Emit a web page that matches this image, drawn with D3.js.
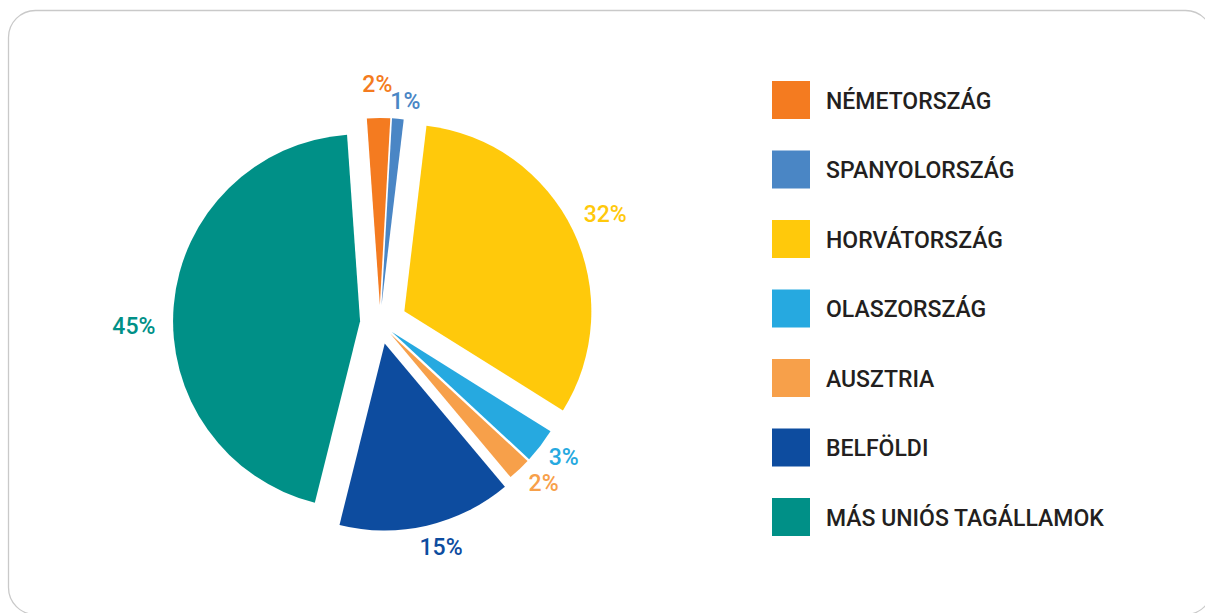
<!DOCTYPE html>
<html>
<head>
<meta charset="utf-8">
<script src="https://cdn.jsdelivr.net/npm/d3@7"></script>
<style>
  body { margin: 0; background: #fff; }
  svg { display: block; }
</style>
</head>
<body>
<svg id="chart" width="1205" height="613"></svg>
<script>
// share of visitors by origin (%)
const categories = ['NÉMETORSZÁG', 'SPANYOLORSZÁG', 'HORVÁTORSZÁG', 'OLASZORSZÁG', 'AUSZTRIA', 'BELFÖLDI', 'MÁS UNIÓS TAGÁLLAMOK'];
const values = [2, 1, 32, 3, 2, 15, 45];
const labels = ['2%', '1%', '32%', '3%', '2%', '15%', '45%'];

const colors = ['#f47b20', '#4a86c5', '#ffc90b', '#26a9e0', '#f7a04a', '#0d4c9f', '#009087'];
// how far each slice is pulled out from the centre
const explode = [18, 18, 27, 15, 15, 21, 20];
// small hand nudges for the percentage labels
const labelNudge = [[-1, -6], [5, 10], [7, -5], [1, -6], [5, -7], [8, -6], [-12, 23]];

const svg = d3.select('#chart');
const cx = 380, cy = 323;
const radius = 187;
const labelRadius = 215;
const deg = Math.PI / 180;

// card outline
svg.append('rect')
  .attr('x', 8.5)
  .attr('y', 10.5)
  .attr('width', 1204)
  .attr('height', 604)
  .attr('rx', 27)
  .attr('fill', '#fff')
  .attr('stroke', '#c9c9c9')
  .attr('stroke-width', 1.3);

const pie = d3.pie()
  .sort(null)
  .value(d => d)
  .startAngle(-4 * deg)
  .endAngle(356 * deg);

const arcs = pie(values);

const arc = d3.arc().innerRadius(0).outerRadius(radius);
const labelArc = d3.arc().innerRadius(labelRadius).outerRadius(labelRadius);

const offset = (d, i) => {
  const a = (d.startAngle + d.endAngle) / 2;
  return [Math.sin(a) * explode[i], -Math.cos(a) * explode[i]];
};

const g = svg.append('g').attr('transform', `translate(${cx},${cy})`);

g.selectAll('path')
  .data(arcs)
  .enter()
    .append('path')
    .attr('d', arc)
    .attr('fill', (d, i) => colors[i])
    .attr('transform', (d, i) => {
      const [dx, dy] = offset(d, i);
      return `translate(${dx},${dy})`;
    });

g.selectAll('text.pct')
  .data(arcs)
  .enter()
    .append('text')
    .attr('class', 'pct')
    .attr('transform', (d, i) => {
      const [dx, dy] = offset(d, i);
      const [lx, ly] = labelArc.centroid(d);
      return `translate(${lx + dx + labelNudge[i][0]},${ly + dy + labelNudge[i][1]})`;
    })
    .attr('text-anchor', 'middle')
    .attr('dy', '0.36em')
    .attr('fill', (d, i) => colors[i])
    .style('font-family', 'Roboto, sans-serif')
    .style('font-weight', 500)
    .style('font-size', '23px')
    .text((d, i) => labels[i]);

// legend
const legendY = d3.scalePoint()
  .domain(categories)
  .range([100, 517]);

const legend = svg.append('g')
  .selectAll('g')
  .data(categories)
  .enter()
    .append('g')
    .attr('transform', d => `translate(772,${legendY(d)})`);

legend.append('rect')
  .attr('x', 0)
  .attr('y', -19)
  .attr('width', 38)
  .attr('height', 38)
  .attr('fill', (d, i) => colors[i]);

legend.append('text')
  .attr('x', 54)
  .attr('y', 8.5)
  .attr('fill', '#231f20')
  .style('font-family', 'Roboto, sans-serif')
  .style('font-weight', 500)
  .style('font-size', '23px')
  .text(d => d);
</script>
</body>
</html>
